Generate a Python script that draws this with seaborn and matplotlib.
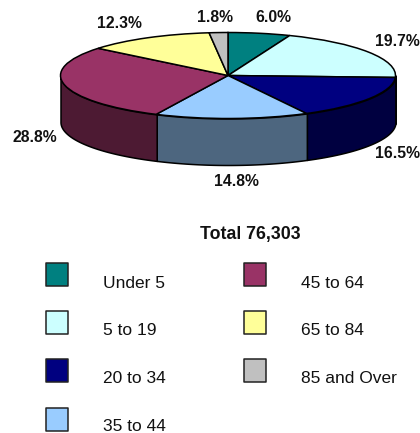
import numpy as np
import pandas as pd
import matplotlib
matplotlib.use("Agg")
import matplotlib.pyplot as plt
import seaborn as sns

categories = ["Under 5", "5 to 19", "20 to 34", "35 to 44", "45 to 64", "65 to 84", "85 and Over"]
shares = [6.0, 19.7, 16.5, 14.8, 28.8, 12.3, 1.8]
pct_labels = ["6.0%", "19.7%", "16.5%", "14.8%", "28.8%", "12.3%", "1.8%"]
total_label = "Total 76,303"
top_colors = ["#008080", "#CCFFFF", "#000080", "#99CCFF", "#993366", "#FFFF99", "#C0C0C0"]
side_colors = ["#004040", "#668080", "#000040", "#4D667F", "#4D1A33", "#80804D", "#606060"]

sns.set_theme(style="white")
plt.rcParams["font.family"] = ["Liberation Sans", "DejaVu Sans"]

W, H = 420, 433
CX, CY, RX, RY, DEPTH = 228, 75.5, 167.5, 43.0, 46.5
fig = plt.figure(figsize=(W / 100, H / 100), dpi=100, facecolor="white")

ax = fig.add_axes([0, 0, 1, 1])
ax.pie(shares, colors=sns.color_palette(top_colors), startangle=90, counterclock=False,
       radius=1, wedgeprops=dict(edgecolor="black", linewidth=1.1, zorder=3))
ax.set_aspect("auto")
ax.set_xlim(-CX / RX, (W - CX) / RX)
ax.set_ylim((CY - H) / RY, CY / RY)
ax.axis("off")

# Side wall of the cylinder, from the same shares
depth = DEPTH / RY
bounds = 90 - np.cumsum([0] + shares) * 3.6
for start, end, col in zip(bounds[:-1], bounds[1:], side_colors):
    lo, hi = max(end, -180), min(start, 0)
    if hi <= lo:
        continue
    t = np.radians(np.linspace(lo, hi, 80))
    ax.fill_between(np.cos(t), np.sin(t), np.sin(t) - depth, facecolor=col,
                    edgecolor="black", linewidth=1.1, zorder=2)

# Overlay in pixel coordinates for text and key
ov = fig.add_axes([0, 0, 1, 1], facecolor="none")
ov.set_xlim(0, W)
ov.set_ylim(H, 0)
ov.axis("off")

label_xy = [(273, 18), (397, 42), (397, 154), (236, 181), (35, 137), (119, 23), (215, 17)]
for txt, (x, y) in zip(pct_labels, label_xy):
    ov.text(x, y, txt, ha="center", va="center", fontsize=11.3, fontweight="bold", color="#111111")

ov.text(250, 235, total_label, ha="center", va="center", fontsize=12.8, fontweight="bold", color="#111111")

rows = [i if i < 4 else i - 4 for i in range(len(categories))]
key = pd.DataFrame({
    "category": categories,
    "x": [57 if i < 4 else 255 for i in range(len(categories))],
    "y": [274.5 + 48.2 * r for r in rows],
})
sns.scatterplot(data=key, x="x", y="y", hue="category", hue_order=categories,
                palette=top_colors, marker="s", s=270, edgecolor="#222222", linewidth=1.1,
                legend=False, ax=ov, clip_on=False)
ov.set_xlim(0, W)
ov.set_ylim(H, 0)
ov.axis("off")
for i, (c, r) in enumerate(zip(categories, rows)):
    ov.text(103 if i < 4 else 301, 283 + 47.7 * r, c, ha="left", va="center",
            fontsize=12.5, color="#111111")

fig.savefig("out.png", dpi=100)
